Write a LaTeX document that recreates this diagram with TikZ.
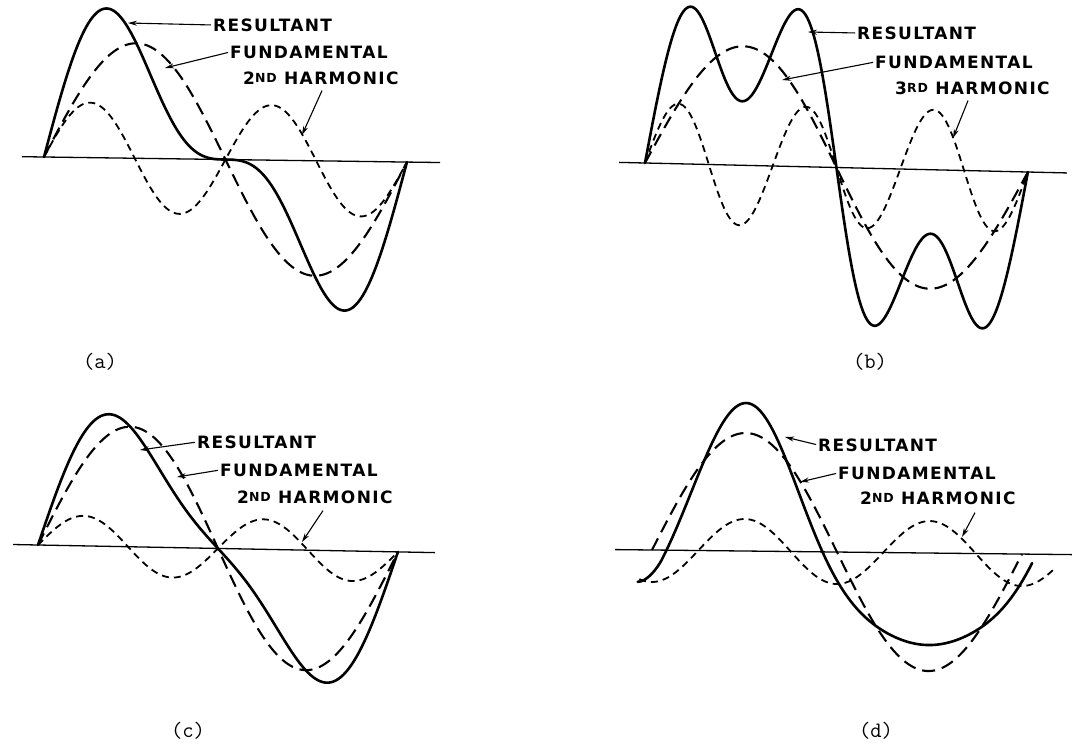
\documentclass[tikz,border=0pt]{standalone}
\usepackage{fontspec}
\usetikzlibrary{arrows.meta}
\newfontfamily\labfont[LetterSpace=8]{DejaVu Sans}
\newcommand\supsc[1]{\raisebox{1.5pt}{\fontsize{12.5}{14}\selectfont #1}}
\begin{document}
\begin{tikzpicture}[x=1pt, y=-1pt,
  res/.style={line width=2.6pt, line join=round, line cap=round},
  fund/.style={line width=2.1pt, dash pattern=on 13pt off 7pt},
  harm/.style={line width=1.8pt, dash pattern=on 7pt off 5pt},
  axisline/.style={line width=1.3pt},
  lbl/.style={font={\labfont\bfseries\fontsize{17}{20}\selectfont}, inner sep=0pt, anchor=west},
  ptr/.style={line width=1.1pt, -{Stealth[length=9pt,width=5pt]}},
  caption/.style={font={\ttfamily\fontsize{22}{26}\selectfont}, inner sep=0pt}]
\useasboundingbox (0,0) rectangle (1072,746);

% ---------- (a) ----------
\begin{scope}[shift={(44pt,-157pt)}, rotate=-0.8, x=1.0083pt, y=-1pt]
  \draw[axisline] (-22,0) -- (393,0);
  \draw[harm] plot[domain=0:360, samples=181, smooth] (\x,{-55*sin(2*\x)});
  \draw[fund] plot[domain=0:360, samples=181, smooth] (\x,{-115*sin(\x)});
  \draw[res] plot[domain=0:360, samples=181, smooth] (\x,{-(115*sin(\x)+57.5*sin(2*\x))});
\end{scope}
\node[lbl] (aR) at (213,25) {RESULTANT};
\node[lbl] (aF) at (230,52) {FUNDAMENTAL};
\node[lbl] (aH) at (243,78) {2\supsc{ND} HARMONIC};
\coordinate (aRt) at (128,23);
\coordinate (aFt) at (165,68);
\coordinate (aHt) at (302,135);
\draw[ptr, shorten <=2pt] (aR.west) -- (aRt);
\draw[ptr, shorten <=2pt] (aF.west) -- (aFt);
\draw[ptr] ([xshift=79pt, yshift=-6pt]aH.south west) -- (aHt);
\node[caption] (capA) at (100,362) {(a)};

% ---------- (b) ----------
\begin{scope}[shift={(645pt,-163pt)}, rotate=-1.35, x=1.0639pt, y=-1pt]
  \draw[axisline] (-24.4,0) -- (396.6,0);
  \draw[harm] plot[domain=0:360, samples=241, smooth] (\x,{-60*sin(3*\x)});
  \draw[fund] plot[domain=0:360, samples=181, smooth] (\x,{-119*sin(\x)});
  \draw[res] plot[domain=0:360, samples=241, smooth] (\x,{-(141*sin(\x)+77*sin(3*\x))});
\end{scope}
\node[lbl] (bR) at (857,33) {RESULTANT};
\node[lbl] (bF) at (875,62) {FUNDAMENTAL};
\node[lbl] (bH) at (895,88) {3\supsc{RD} HARMONIC};
\coordinate (bRt) at (808,32);
\coordinate (bFt) at (782,80);
\coordinate (bHt) at (953,138);
\draw[ptr, shorten <=2pt] (bR.west) -- (bRt);
\draw[ptr, shorten <=2pt] (bF.west) -- (bFt);
\draw[ptr] ([xshift=73pt, yshift=-6pt]bH.south west) -- (bHt);
\node[caption] (capB) at (870,362) {(b)};

% ---------- (c) ----------
\begin{scope}[shift={(38pt,-545pt)}, rotate=-1.1, x=1pt, y=-1pt]
  \draw[axisline] (-25,0) -- (397,0);
  \draw[harm] plot[domain=0:360, samples=181, smooth] (\x,{-30*sin(2*\x)});
  \draw[fund] plot[domain=0:360, samples=181, smooth] (\x,{-120*sin(\x)});
  \draw[res] plot[domain=0:360, samples=181, smooth] (\x,{-(120*sin(\x)+30*sin(2*\x))});
\end{scope}
\node[lbl] (cR) at (197,442) {RESULTANT};
\node[lbl] (cF) at (220,470) {FUNDAMENTAL};
\node[lbl] (cH) at (237,497) {2\supsc{ND} HARMONIC};
\coordinate (cRt) at (140,450);
\coordinate (cFt) at (177,477);
\coordinate (cHt) at (302,542);
\draw[ptr, shorten <=2pt] (cR.west) -- (cRt);
\draw[ptr, shorten <=2pt] (cF.west) -- (cFt);
\draw[ptr] ([xshift=86pt, yshift=-7pt]cH.south west) -- (cHt);
\node[caption] (capC) at (188,731) {(c)};

% ---------- (d) ----------
\begin{scope}[shift={(652pt,-550pt)}, rotate=-0.63, x=1.0278pt, y=-1pt]
  \draw[axisline] (-36,0) -- (409,0);
  \draw[harm] plot[domain=-12:392, samples=203, smooth] (\x,{32*cos(2*\x)});
  \draw[fund] plot[domain=0:360, samples=181, smooth] (\x,{-118*sin(\x)});
  \draw[res] (-13.6,32) .. controls (-5,32) and (5,19.2) .. (10,8.84)
     -- plot[domain=10:370, samples=181, smooth] (\x,{-(115*sin(\x)-28*cos(2*\x)-5*sin(3*\x))});
\end{scope}
\node[lbl] (dR) at (818,445) {RESULTANT};
\node[lbl] (dF) at (838,473) {FUNDAMENTAL};
\node[lbl] (dH) at (860,498) {2\supsc{ND} HARMONIC};
\coordinate (dRt) at (785,437);
\coordinate (dFt) at (800,482);
\coordinate (dHt) at (962,537);
\draw[ptr, shorten <=2pt] (dR.west) -- (dRt);
\draw[ptr, shorten <=2pt] (dF.west) -- (dFt);
\draw[ptr] ([xshift=115pt, yshift=-8pt]dH.south west) -- (dHt);
\node[caption] (capD) at (876,731) {(d)};
\end{tikzpicture}
\end{document}
